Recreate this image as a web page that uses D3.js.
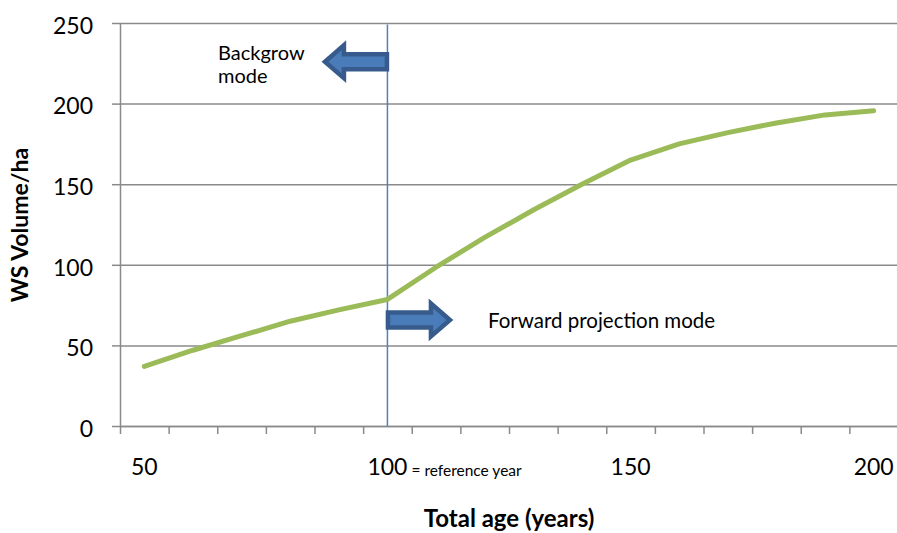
<!DOCTYPE html>
<html>
<head>
<meta charset="utf-8">
<script src="https://cdn.jsdelivr.net/npm/d3@7"></script>
<style>
  body { margin: 0; background: #fff; }
  svg { display: block; font-family: Lato, "Open Sans", sans-serif; }
</style>
</head>
<body>
<div id="chart"></div>
<script>
// total age (years), one category every 10 years
const ages = [50, 60, 70, 80, 90, 100, 110, 120, 130, 140, 150, 160, 170, 180, 190, 200];
// WS volume per ha
const volumes = [37, 47, 56, 65, 72, 78.5, 98.5, 117, 134, 150, 165, 175, 182, 188, 193, 195.5];
const yTicks = [0, 50, 100, 150, 200, 250];
const xLabels = [50, 100, 150, 200];
const referenceAge = 100;

function drawChart() {
  const W = 897, H = 533;
  const margin = { top: 23, left: 120 };
  const plotW = 778;          // runs slightly past the right edge, as in the original
  const plotH = 403;

  const svg = d3.select("#chart").append("svg")
    .attr("width", W)
    .attr("height", H);

  const g = svg.append("g")
    .attr("transform", `translate(${margin.left},${margin.top})`);

  const x = d3.scaleBand().domain(ages).range([0, plotW]).padding(0);
  const xc = a => x(a) + x.bandwidth() / 2;
  const y = d3.scaleLinear().domain([0, 250]).range([plotH, 0]);

  // gridlines
  g.append("g")
    .call(d3.axisLeft(y).tickValues(yTicks).tickSize(-plotW).tickFormat(""))
    .call(s => s.select(".domain").remove())
    .call(s => s.selectAll("line").attr("stroke", "#8a8a8a").attr("stroke-width", 1.5));

  // y axis
  g.append("g")
    .call(d3.axisLeft(y).tickValues(yTicks).tickSizeInner(8).tickSizeOuter(0).tickPadding(19))
    .call(s => s.select(".domain").attr("stroke", "#8a8a8a").attr("stroke-width", 1.5))
    .call(s => s.selectAll("line").attr("stroke", "#8a8a8a").attr("stroke-width", 1.5))
    .call(s => s.selectAll("text")
      .attr("font-size", 23).attr("fill", "#000").attr("dy", "0.45em")
      .attr("font-family", "Lato, sans-serif"));

  // x axis: tick marks on category boundaries
  const xEdge = d3.scaleLinear().domain([0, ages.length]).range([0, plotW]);
  g.append("g")
    .attr("transform", `translate(0,${plotH})`)
    .call(d3.axisBottom(xEdge).tickValues(d3.range(0, ages.length + 1)).tickSizeInner(8).tickSizeOuter(0).tickFormat(""))
    .call(s => s.select(".domain").attr("stroke", "#8a8a8a").attr("stroke-width", 1.5))
    .call(s => s.selectAll("line").attr("stroke", "#8a8a8a").attr("stroke-width", 1.5));

  // x labels every 5th category
  g.append("g")
    .attr("transform", `translate(0,${plotH})`)
    .call(d3.axisBottom(x).tickValues(xLabels).tickSize(0).tickPadding(33))
    .call(s => s.select(".domain").remove())
    .call(s => s.selectAll("text")
      .attr("font-size", 23).attr("fill", "#000")
      .attr("font-family", "Lato, sans-serif"));

  g.append("text")
    .attr("x", xc(referenceAge) + 24)
    .attr("y", plotH + 50)
    .attr("font-size", 15.5)
    .attr("fill", "#000")
    .text("= reference year");

  // reference year line
  g.append("line")
    .attr("x1", xc(referenceAge)).attr("x2", xc(referenceAge))
    .attr("y1", y(249)).attr("y2", y(0))
    .attr("stroke", "#4f81bd")
    .attr("stroke-width", 1.5);

  // volume curve
  const line = d3.line()
    .x((d, i) => xc(ages[i]))
    .y(d => y(d));

  g.append("path")
    .datum(volumes)
    .attr("fill", "none")
    .attr("stroke", "#9bbb59")
    .attr("stroke-width", 5)
    .attr("stroke-linecap", "round")
    .attr("stroke-linejoin", "round")
    .attr("d", line);

  // block arrows (dir -1 = left, 1 = right)
  function blockArrow(x0, yMid, len, dir) {
    const shaftH = 15, headH = 33, headL = 19;
    const xs = x0, xt = x0 + dir * len, xh = xt - dir * headL;
    const pts = [
      [xs, yMid - shaftH / 2], [xh, yMid - shaftH / 2], [xh, yMid - headH / 2],
      [xt, yMid], [xh, yMid + headH / 2], [xh, yMid + shaftH / 2], [xs, yMid + shaftH / 2]
    ];
    g.append("polygon")
      .attr("points", pts.map(p => p.join(",")).join(" "))
      .attr("fill", "#4a7cba")
      .attr("stroke", "#375b8c")
      .attr("stroke-width", 4.5)
      .attr("stroke-linejoin", "miter");
  }

  blockArrow(xc(referenceAge) - 0.5, y(226), 62, -1);
  blockArrow(xc(referenceAge) + 0.5, y(65.8), 62, 1);

  // annotations
  const back = g.append("text")
    .attr("x", 98)
    .attr("y", 37)
    .attr("font-size", 20)
    .attr("fill", "#000");
  back.append("tspan").attr("x", 98).text("Backgrow");
  back.append("tspan").attr("x", 98).attr("dy", 23).text("mode");

  g.append("text")
    .attr("x", 368)
    .attr("y", 305)
    .attr("font-size", 20.5)
    .attr("fill", "#000")
    .text("Forward projection mode");

  // axis titles
  svg.append("text")
    .attr("x", 509)
    .attr("y", 527)
    .attr("text-anchor", "middle")
    .attr("font-size", 24)
    .attr("font-weight", "bold")
    .attr("fill", "#000")
    .text("Total age (years)");

  svg.append("text")
    .attr("transform", "translate(28,225) rotate(-90)")
    .attr("text-anchor", "middle")
    .attr("font-size", 23)
    .attr("font-weight", "bold")
    .attr("fill", "#000")
    .text("WS Volume/ha");
}

drawChart();
</script>
</body>
</html>
